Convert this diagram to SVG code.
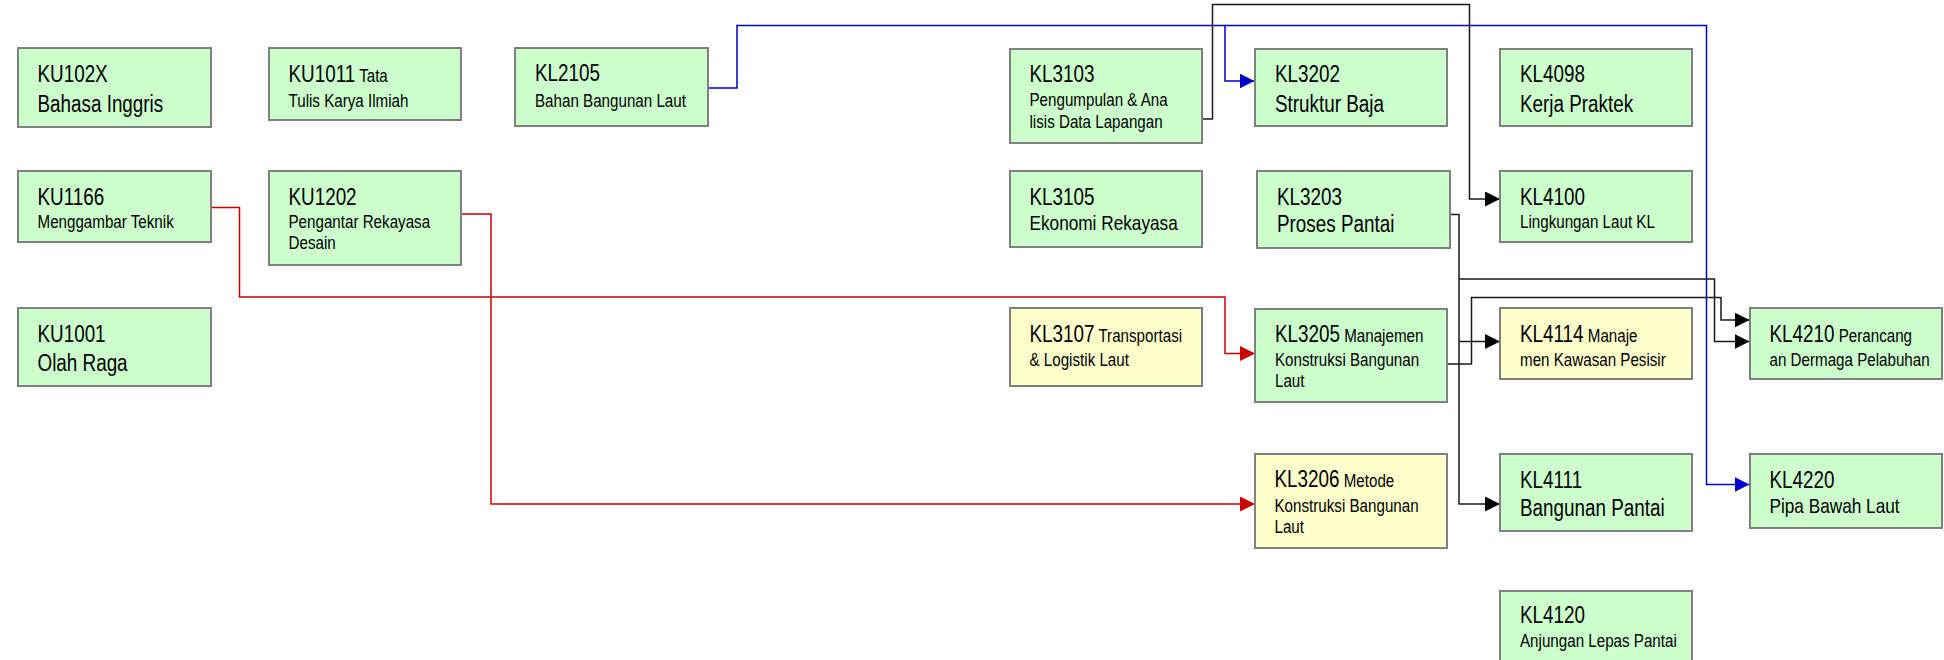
<svg xmlns="http://www.w3.org/2000/svg" width="1944" height="660" viewBox="0 0 1944 660">
<style>
text{font-family:"Liberation Sans",Arial,sans-serif;fill:#000}
.n rect{fill:#CCFFCC;stroke:#808080;stroke-width:2}
.y rect{fill:#FFFFCC}
.b{font-size:23px}
.s{font-size:18.5px}
.m{font-size:21px}
.red{fill:none;stroke:#CC0000;stroke-width:1.5}
.blue{fill:none;stroke:#0000CC;stroke-width:1.5}
.blk{fill:none;stroke:#1a1a1a;stroke-width:1.5}
</style>
<defs>
<marker id="ar" markerUnits="userSpaceOnUse" markerWidth="16" markerHeight="16" refX="15" refY="7.5" orient="auto"><path d="M0,0 L15,7.5 L0,15 z" fill="#CC0000"/></marker>
<marker id="ab" markerUnits="userSpaceOnUse" markerWidth="16" markerHeight="16" refX="15" refY="7.5" orient="auto"><path d="M0,0 L15,7.5 L0,15 z" fill="#0000CC"/></marker>
<marker id="ak" markerUnits="userSpaceOnUse" markerWidth="16" markerHeight="16" refX="15" refY="7.5" orient="auto"><path d="M0,0 L15,7.5 L0,15 z" fill="#000"/></marker>
</defs>
<rect width="1944" height="660" fill="#fff"/>
<g id="connectors">
<path class="red" marker-end="url(#ar)" d="M211,207.5 H239.5 V297 H1225 V353.5 H1255"/>
<path class="red" marker-end="url(#ar)" d="M461,214 H491 V504 H1255"/>
<path class="blue" marker-end="url(#ab)" d="M708,88 H737 V25.5 H1706.5 V484.5 H1749.5"/>
<path class="blue" marker-end="url(#ab)" d="M1225,25.5 V81 H1254.5"/>
<path class="blk" marker-end="url(#ak)" d="M1202,119 H1212.5 V4.5 H1469.5 V199 H1500"/>
<path class="blk" marker-end="url(#ak)" d="M1450,214.5 H1459 V504 H1500"/>
<path class="blk" marker-end="url(#ak)" d="M1459,279 H1714.5 V341.5 H1749.5"/>
<path class="blk" marker-end="url(#ak)" d="M1459,341.5 H1500"/>
<path class="blk" marker-end="url(#ak)" d="M1447,364 H1471.5 V297.5 H1721 V320 H1749.5"/>
</g>
<g id="KU102X" class="n"><rect x="18" y="48" width="193" height="79"/><text transform="translate(37.5,82) scale(0.82,1)" class="b">KU102X</text><text transform="translate(37.5,112) scale(0.82,1)" class="b">Bahasa Inggris</text></g>
<g id="KU1166" class="n"><rect x="18" y="171" width="193" height="71"/><text transform="translate(37.5,205) scale(0.82,1)" class="b">KU1166</text><text transform="translate(37.5,228) scale(0.82,1)" class="s">Menggambar Teknik</text></g>
<g id="KU1001" class="n"><rect x="18" y="308" width="193" height="78"/><text transform="translate(37.5,342) scale(0.82,1)" class="b">KU1001</text><text transform="translate(37.5,371) scale(0.82,1)" class="b">Olah Raga</text></g>
<g id="KU1011" class="n"><rect x="269" y="48" width="192" height="72"/><text transform="translate(288.5,82) scale(0.82,1)"><tspan class="b">KU1011</tspan><tspan class="s"> Tata</tspan></text><text transform="translate(288.5,107) scale(0.82,1)" class="s">Tulis Karya Ilmiah</text></g>
<g id="KU1202" class="n"><rect x="269" y="171" width="192" height="94"/><text transform="translate(288.5,205) scale(0.82,1)" class="b">KU1202</text><text transform="translate(288.5,228) scale(0.82,1)" class="s">Pengantar Rekayasa</text><text transform="translate(288.5,249) scale(0.82,1)" class="s">Desain</text></g>
<g id="KL2105" class="n"><rect x="515" y="48" width="193" height="78"/><text transform="translate(535,81) scale(0.82,1)" class="b">KL2105</text><text transform="translate(535,107) scale(0.82,1)" class="s">Bahan Bangunan Laut</text></g>
<g id="KL3103" class="n"><rect x="1010" y="49" width="192" height="94"/><text transform="translate(1029.5,82) scale(0.82,1)" class="b">KL3103</text><text transform="translate(1029.5,106) scale(0.82,1)" class="s">Pengumpulan &amp; Ana</text><text transform="translate(1029.5,128) scale(0.82,1)" class="s">lisis Data Lapangan</text></g>
<g id="KL3105" class="n"><rect x="1010" y="171" width="192" height="76"/><text transform="translate(1029.5,205) scale(0.82,1)" class="b">KL3105</text><text transform="translate(1029.5,230) scale(0.82,1)" class="m">Ekonomi Rekayasa</text></g>
<g id="KL3107" class="n y"><rect x="1010" y="308" width="192" height="78"/><text transform="translate(1029.5,342) scale(0.82,1)"><tspan class="b">KL3107</tspan><tspan class="s"> Transportasi</tspan></text><text transform="translate(1029.5,366) scale(0.82,1)" class="s">&amp; Logistik Laut</text></g>
<g id="KL3202" class="n"><rect x="1255" y="49" width="192" height="77"/><text transform="translate(1275,82) scale(0.82,1)" class="b">KL3202</text><text transform="translate(1275,112) scale(0.82,1)" class="b">Struktur Baja</text></g>
<g id="KL3203" class="n"><rect x="1257" y="171" width="193" height="77"/><text transform="translate(1277,205) scale(0.82,1)" class="b">KL3203</text><text transform="translate(1277,232) scale(0.82,1)" class="b">Proses Pantai</text></g>
<g id="KL3205" class="n"><rect x="1255" y="309" width="192" height="93"/><text transform="translate(1275,342) scale(0.82,1)"><tspan class="b">KL3205</tspan><tspan class="s"> Manajemen</tspan></text><text transform="translate(1275,366) scale(0.82,1)" class="s">Konstruksi Bangunan</text><text transform="translate(1275,387) scale(0.82,1)" class="s">Laut</text></g>
<g id="KL3206" class="n y"><rect x="1255" y="454" width="192" height="94"/><text transform="translate(1274.5,487) scale(0.82,1)"><tspan class="b">KL3206</tspan><tspan class="s"> Metode</tspan></text><text transform="translate(1274.5,512) scale(0.82,1)" class="s">Konstruksi Bangunan</text><text transform="translate(1274.5,533) scale(0.82,1)" class="s">Laut</text></g>
<g id="KL4098" class="n"><rect x="1500" y="49" width="192" height="77"/><text transform="translate(1520,82) scale(0.82,1)" class="b">KL4098</text><text transform="translate(1520,112) scale(0.82,1)" class="b">Kerja Praktek</text></g>
<g id="KL4100" class="n"><rect x="1500" y="171" width="192" height="71"/><text transform="translate(1520,205) scale(0.82,1)" class="b">KL4100</text><text transform="translate(1520,228) scale(0.82,1)" class="s">Lingkungan Laut KL</text></g>
<g id="KL4114" class="n y"><rect x="1500" y="308" width="192" height="71"/><text transform="translate(1520,342) scale(0.82,1)"><tspan class="b">KL4114</tspan><tspan class="s"> Manaje</tspan></text><text transform="translate(1520,366) scale(0.82,1)" class="s">men Kawasan Pesisir</text></g>
<g id="KL4111" class="n"><rect x="1500" y="454" width="192" height="77"/><text transform="translate(1520,488) scale(0.82,1)" class="b">KL4111</text><text transform="translate(1520,516) scale(0.82,1)" class="b">Bangunan Pantai</text></g>
<g id="KL4120" class="n"><rect x="1500" y="591" width="192" height="72"/><text transform="translate(1520,623) scale(0.82,1)" class="b">KL4120</text><text transform="translate(1520,647) scale(0.82,1)" class="s">Anjungan Lepas Pantai</text></g>
<g id="KL4210" class="n"><rect x="1750" y="308" width="192" height="71"/><text transform="translate(1769.5,342) scale(0.82,1)"><tspan class="b">KL4210</tspan><tspan class="s"> Perancang</tspan></text><text transform="translate(1769.5,366) scale(0.82,1)" class="s">an Dermaga Pelabuhan</text></g>
<g id="KL4220" class="n"><rect x="1750" y="454" width="192" height="74"/><text transform="translate(1769.5,488) scale(0.82,1)" class="b">KL4220</text><text transform="translate(1769.5,513) scale(0.82,1)" class="m">Pipa Bawah Laut</text></g>
</svg>
